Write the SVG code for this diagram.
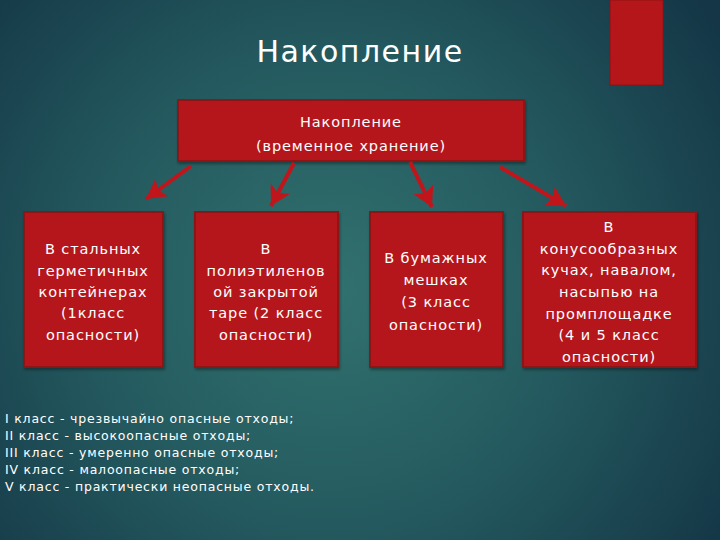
<svg xmlns="http://www.w3.org/2000/svg" width="720" height="540" viewBox="0 0 720 540">
<defs>
<radialGradient id="bg" cx="330" cy="290" r="470" gradientUnits="userSpaceOnUse">
<stop offset="0" stop-color="#32716f"/>
<stop offset="0.5" stop-color="#245a5f"/>
<stop offset="1" stop-color="#143646"/>
</radialGradient>
<marker id="ah" markerUnits="userSpaceOnUse" markerWidth="26" markerHeight="26" viewBox="0 0 24 24" refX="20" refY="12" orient="auto">
<path d="M2,2 L20,12 L2,22 L6,12 Z" fill="#c0161b"/>
</marker>
<filter id="sh" x="-10%" y="-10%" width="120%" height="120%">
<feDropShadow dx="1" dy="2" stdDeviation="1.5" flood-color="#000" flood-opacity="0.35"/>
</filter>
</defs>
<style>
.box{fill:#b5161a;stroke:#8c1216;stroke-width:2;filter:url(#sh)}
.t{font-family:"DejaVu Sans",sans-serif;fill:#fff;font-size:14.5px;text-anchor:middle;letter-spacing:0.9px;font-weight:normal}
.lg{font-family:"DejaVu Sans",sans-serif;fill:#fff;font-size:12.5px;letter-spacing:0.8px}
.ar{stroke:#c0161b;stroke-width:4;fill:none;marker-end:url(#ah)}
</style>
<rect width="720" height="540" fill="url(#bg)"/>
<rect x="610" y="0" width="53" height="85" fill="#b5161a" stroke="#8c1216" stroke-width="1"/>
<text x="360" y="62" font-family="DejaVu Sans, sans-serif" font-size="30" fill="#fff" text-anchor="middle" letter-spacing="1.5">Накопление</text>

<g id="top">
<rect class="box" x="178" y="100" width="346" height="61"/>
<text class="t" x="351" y="127">Накопление</text>
<text class="t" x="351" y="151">(временное хранение)</text>
</g>

<g id="b1">
<rect class="box" x="24" y="212" width="139" height="155"/>
<text class="t" x="93" y="254">В стальных</text>
<text class="t" x="93" y="276">герметичных</text>
<text class="t" x="93" y="297">контейнерах</text>
<text class="t" x="93" y="318">(1класс</text>
<text class="t" x="93" y="340">опасности)</text>
</g>

<g id="b2">
<rect class="box" x="195" y="212" width="143" height="155"/>
<text class="t" x="266" y="254">В</text>
<text class="t" x="266" y="276">полиэтиленов</text>
<text class="t" x="266" y="297">ой закрытой</text>
<text class="t" x="266" y="318">таре (2 класс</text>
<text class="t" x="266" y="340">опасности)</text>
</g>

<g id="b3">
<rect class="box" x="370" y="212" width="133" height="155"/>
<text class="t" x="436" y="263">В бумажных</text>
<text class="t" x="436" y="285">мешках</text>
<text class="t" x="436" y="307">(3 класс</text>
<text class="t" x="436" y="330">опасности)</text>
</g>

<g id="b4">
<rect class="box" x="523" y="212" width="173" height="155"/>
<text class="t" x="609" y="232">В</text>
<text class="t" x="609" y="254">конусообразных</text>
<text class="t" x="609" y="275">кучах, навалом,</text>
<text class="t" x="609" y="297">насыпью на</text>
<text class="t" x="609" y="319">промплощадке</text>
<text class="t" x="609" y="340">(4 и 5 класс</text>
<text class="t" x="609" y="362">опасности)</text>
</g>

<g id="connectors">
<line class="ar" x1="191" y1="166" x2="146" y2="199"/>
<line class="ar" x1="294" y1="163" x2="271" y2="206"/>
<line class="ar" x1="410" y1="162" x2="432" y2="207"/>
<line class="ar" x1="500" y1="167" x2="566" y2="206"/>
</g>

<g id="legend">
<text class="lg" x="5" y="423">I класс - чрезвычайно опасные отходы;</text>
<text class="lg" x="5" y="440">II класс - высокоопасные отходы;</text>
<text class="lg" x="5" y="457">III класс - умеренно опасные отходы;</text>
<text class="lg" x="5" y="474">IV класс - малоопасные отходы;</text>
<text class="lg" x="5" y="491">V класс - практически неопасные отходы.</text>
</g>
</svg>
